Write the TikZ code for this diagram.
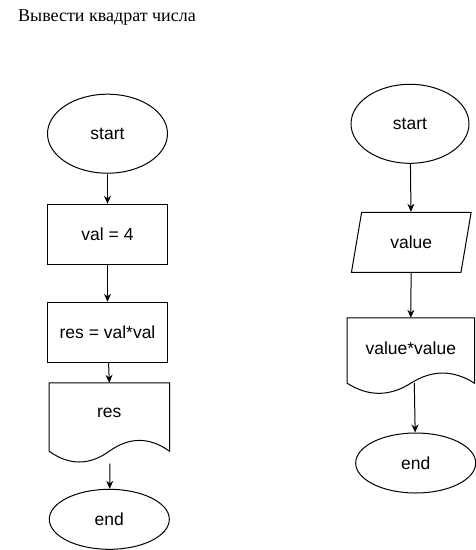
\documentclass[tikz,border=0pt]{standalone}
\usepackage{fontspec}
\setmainfont{Liberation Serif}
\newfontfamily\flowfont{Liberation Sans}
\usetikzlibrary{arrows.meta,calc,shapes.geometric}
\tikzset{
  flowline/.style={black, line width=1pt},
  flowarrow/.style={flowline, -{Stealth[length=8pt,width=7pt]}},
  flowtext/.style={font=\flowfont\fontsize{17.5}{21}\selectfont, inner sep=0pt},
  terminal/.style={flowtext, ellipse, draw, flowline, minimum width=120, minimum height=60},
  process/.style={flowtext, rectangle, draw, flowline, minimum width=120, minimum height=60},
  inputbox/.style={flowtext, trapezium, draw, flowline, trapezium left angle=71.57, trapezium right angle=108.43,
    trapezium stretches=true, minimum width=120, minimum height=60},
  docbox/.style={flowtext, rectangle, minimum width=120, minimum height=60},
  titletext/.style={font=\fontsize{18}{21}\selectfont, anchor=base west, inner sep=0pt}
}
% document outline: node, drop of the sides below node.south, bulge of the wave
\newcommand{\docoutline}[3]{%
  \draw[flowline] (#1.north west) -- (#1.north east) -- ($(#1.south east)+(0,#2)$)
    .. controls ($(#1.south east)!1/6!(#1.south west)+(0,#2-#3)$) and ($(#1.south east)!2/6!(#1.south west)+(0,#2-#3)$) .. ($(#1.south)+(0,#2)$)
    .. controls ($(#1.south east)!4/6!(#1.south west)+(0,#2+#3)$) and ($(#1.south east)!5/6!(#1.south west)+(0,#2+#3)$) .. ($(#1.south west)+(0,#2)$) -- cycle;}

\begin{document}
\begin{tikzpicture}[x=1pt, y=-1pt]
  \useasboundingbox (0,0) rectangle (476,550);
  \node[titletext] (title) at (18,21.5) {Вывести квадрат числа};

  % first scheme
  \node[terminal] (start1) at (107.5,133.7) [minimum height=79] {start};
  \node[process] (val) at (107.5,234.3) {val = 4};
  \node[process] (res1) at (107.5,332.3) {res = val*val};
  \node[docbox] (out1) at (109.3,413) {res};
  \docoutline{out1}{8}{14.4}
  \coordinate (out1b) at ($(out1.south)+(0.7,20.3)$);
  \node[terminal] (end1) at (109.3,519.3) {end};
  \draw[flowarrow] (start1) -- (val);
  \draw[flowarrow] (val) -- (res1);
  \draw[flowarrow] (res1) -- (out1.north);
  \draw[flowarrow] (out1b) -- (end1);

  % second scheme
  \node[terminal] (start2) at (410,123.8) [minimum width=118, minimum height=79] {start};
  \node[inputbox] (in2) at (411.3,242.3) {value};
  \node[docbox] (out2) at (410.8,348) [minimum width=127] {value*value};
  \docoutline{out2}{5}{13.5}
  \coordinate (out2b) at ($(out2.south)+(3.5,4.7)$);
  \node[terminal] (end2) at (415.7,463) {end};
  \draw[flowarrow] (start2) -- (in2);
  \draw[flowarrow] (in2) -- (out2.north);
  \draw[flowarrow] (out2b) -- (end2);
\end{tikzpicture}
\end{document}
